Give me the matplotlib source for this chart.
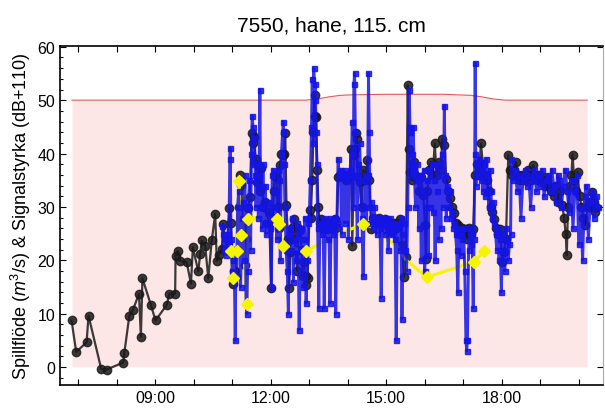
import numpy as np
import matplotlib
matplotlib.use("Agg")
import matplotlib.pyplot as plt
from matplotlib.ticker import FuncFormatter, MultipleLocator

plt.rcParams['font.family'] = ['Liberation Sans', 'DejaVu Sans']
plt.rcParams['mathtext.fontset'] = 'custom'
plt.rcParams['mathtext.rm'] = 'Liberation Sans'
plt.rcParams['mathtext.it'] = 'Liberation Sans:italic'

# tid i timmar (decimal), värden avlästa ur bilden
# gräns (spillflöde) - röd linje med rosa fyllning
grans_t = [6.84, 12.0, 12.9, 13.2, 13.5, 13.8, 14.1, 15.0, 16.5, 17.2, 17.5, 17.8, 18.1, 19.0, 20.22]
grans_v = [50, 50, 50, 50.2, 50.6, 50.9, 51, 51.1, 51.1, 50.9, 50.6, 50.2, 50, 50, 50]

# svart serie (cirklar)
svart_t = [6.83, 6.95, 7.22, 7.27, 7.60, 7.74, 8.17, 8.20, 8.33, 8.42, 8.58, 8.63, 8.67, 8.89,
           9.01, 9.30, 9.37, 9.52, 9.53, 9.59, 9.65, 9.82, 9.93, 9.98, 10.12, 10.17, 10.21, 10.30,
           10.38, 10.47, 10.56, 10.60, 10.65, 10.73, 10.77, 10.85, 10.93,
           10.97, 11.01, 11.05, 11.08, 11.12, 11.17, 11.21, 11.24, 11.28, 11.33, 11.37, 11.41, 11.46,
           11.51, 11.54, 11.56, 11.61, 11.65, 11.68, 11.72, 11.76, 11.81, 11.86, 11.91, 11.96, 12.01,
           12.05, 12.08, 12.11, 12.14, 12.18, 12.21, 12.24, 12.28, 12.31, 12.35, 12.38, 12.41, 12.45,
           12.48, 12.51, 12.55, 12.58, 12.61, 12.65, 12.69, 12.72, 12.76, 12.80, 12.83, 12.86, 12.91,
           12.93, 12.96, 13.01, 13.04, 13.08, 13.11, 13.14, 13.16, 13.18, 13.21, 13.24, 13.27, 13.31,
           13.36, 13.41, 13.46, 13.51, 13.56, 13.61, 13.66, 13.71, 13.76, 13.81, 13.86, 13.91, 13.96,
           14.01, 14.05, 14.08, 14.12, 14.16, 14.19, 14.21, 14.23, 14.26, 14.31, 14.36, 14.41, 14.46,
           14.51, 14.56, 14.61, 14.66, 14.71, 14.76, 14.81, 14.86, 14.91, 14.96, 15.01, 15.06, 15.11,
           15.16, 15.21, 15.26, 15.31, 15.36, 15.41, 15.46, 15.51, 15.56, 15.58, 15.61, 15.66, 15.71,
           15.76, 15.81, 15.86, 15.91, 15.96, 16.01, 16.03, 16.07, 16.12, 16.16, 16.21, 16.26, 16.31,
           16.36, 16.41, 16.46, 16.51, 16.56, 16.61, 16.66, 16.71, 16.76, 16.81, 16.86, 16.91, 16.96,
           17.01, 17.06, 17.11, 17.16, 17.21, 17.26, 17.31, 17.36, 17.41, 17.46, 17.51, 17.56, 17.61,
           17.66, 17.71, 17.76, 17.81, 17.86, 17.91, 17.96, 18.01, 18.06, 18.11, 18.17, 18.22, 18.27,
           18.32, 18.37, 18.42, 18.47, 18.52, 18.57, 18.62, 18.67, 18.72, 18.77, 18.82, 18.87, 18.92,
           18.97, 19.02, 19.07, 19.12, 19.17, 19.22, 19.27, 19.32, 19.37, 19.42, 19.47, 19.52, 19.57,
           19.62, 19.66, 19.69, 19.72, 19.77, 19.81, 19.84, 19.88, 19.92, 19.97, 20.02, 20.07, 20.12,
           20.17, 20.22, 20.27, 20.31, 20.35, 20.39, 20.42, 20.46]
svart_v = [8.7, 2.8, 4.6, 9.6, -0.4, -0.5, 0.8, 2.6, 9.6, 10.6, 13.7, 5.6, 16.6, 11.6,
           8.7, 11.6, 13.7, 13.7, 20.8, 21.8, 19.9, 19.6, 15.6, 22.4, 17.9, 21.2, 23.7, 22.7,
           16.6, 23.7, 28.7, 19.9, 21.0, 22.1, 26.8, 22.0, 29.7,
           27, 15.6, 18, 17.9, 22, 30, 35.9, 34.1, 26, 19.1, 24, 29.7, 31.9,
           43.8, 42, 43.1, 39, 34.7, 37.8, 33, 37.2, 30, 30.9, 27, 29, 14.7,
           28, 33, 35.9, 35.6, 30, 26, 37.8, 40, 39.7, 40, 43.8, 30.3, 24,
           14.7, 21.6, 26, 24, 27.8, 22, 18, 26, 25.6, 22, 17, 19.7, 15.3,
           17, 16.6, 29.4, 28, 35, 44, 50.9, 47, 46.9, 36.9, 30, 27, 27.8,
           26, 27, 25.9, 27, 26, 27, 27.8, 26, 35.6, 36, 35.9, 36, 35,
           35.6, 36, 40.8, 22.7, 39.7, 40.8, 43.8, 42.8, 35.6, 34.7, 30, 36.9, 35,
           38.8, 35, 25.9, 28, 27.8, 27, 28, 27, 27, 27.8, 27, 26, 27,
           25.3, 27, 26, 27, 27.8, 22.8, 16.9, 20.6, 52.8, 40.9, 36.6, 35, 38.4,
           36, 35.3, 33, 35.6, 32.2, 26.6, 20.3, 33, 37, 38.4, 36, 41.9, 36,
           38.4, 37, 42.8, 41.6, 35.3, 33, 31.6, 30, 28.8, 27, 26.6, 25, 26,
           25, 25.9, 24, 26, 25, 25.9, 35.9, 38, 36, 41.9, 38, 36, 35,
           33, 30, 29, 27.8, 26, 25, 25.9, 19.7, 21.6, 24, 39.7, 37, 36,
           37, 38.4, 36, 35, 36, 35, 36, 37, 36, 35, 37.8, 36, 35,
           36, 35, 35.6, 34, 35, 34, 33, 33.8, 32, 34, 31, 33, 30.3,
           28, 25, 20.9, 30, 34, 36, 39.8, 35, 33, 36.6, 32, 30, 28,
           26.6, 30, 31, 30, 32.8, 31, 29.1, 30]

# blå serie (kvadrater)
bla_t = [10.73, 10.76, 10.79, 10.82, 10.85, 10.88, 10.91, 10.94, 10.95, 10.97,
         11.00, 11.03, 11.06, 11.08, 11.10, 11.12, 11.14, 11.17, 11.20, 11.22, 11.25, 11.28, 11.30,
         11.33, 11.36, 11.38, 11.40, 11.42, 11.45, 11.48,
         11.50, 11.52, 11.54, 11.56, 11.58, 11.60, 11.62, 11.64, 11.66, 11.68, 11.70, 11.72, 11.74,
         11.77, 11.80, 11.83, 11.86, 11.89, 11.92, 11.95, 11.98,
         12.00, 12.02, 12.04, 12.07, 12.10, 12.13, 12.16, 12.19, 12.22, 12.25, 12.28, 12.31, 12.33,
         12.35, 12.37, 12.40, 12.43, 12.46, 12.48,
         12.50, 12.53, 12.56, 12.59, 12.62, 12.65, 12.68, 12.71, 12.74, 12.77, 12.80, 12.83, 12.86,
         12.89, 12.92, 12.95, 12.98,
         13.00, 13.03, 13.06, 13.08, 13.10, 13.12, 13.14, 13.16, 13.18, 13.20, 13.22, 13.25, 13.28,
         13.30, 13.33, 13.36, 13.39, 13.42, 13.45, 13.48, 13.51, 13.54, 13.57, 13.60, 13.63, 13.66,
         13.69, 13.72,
         13.75, 13.78, 13.81, 13.84, 13.87, 13.90, 13.93, 13.96, 13.99, 14.02, 14.05, 14.08,
         14.10, 14.12, 14.14, 14.16, 14.18, 14.20, 14.22, 14.25, 14.28, 14.31, 14.34, 14.37, 14.40,
         14.43, 14.46, 14.49, 14.52, 14.54, 14.56, 14.58,
         14.60, 14.63, 14.66, 14.69, 14.72, 14.75, 14.78, 14.81, 14.84, 14.87, 14.90, 14.93, 14.96,
         14.99, 15.02, 15.05, 15.08, 15.11, 15.14, 15.17, 15.20, 15.23, 15.26, 15.29, 15.32, 15.35,
         15.38, 15.41, 15.44, 15.47, 15.50, 15.53,
         15.56, 15.58, 15.60, 15.62, 15.64, 15.66, 15.68, 15.70, 15.73, 15.76, 15.79, 15.82, 15.85,
         15.88, 15.91, 15.94, 15.97, 16.00, 16.03, 16.06, 16.09,
         16.12, 16.15, 16.18, 16.21, 16.24, 16.27, 16.30, 16.33, 16.36, 16.39, 16.42, 16.45, 16.48,
         16.51, 16.53, 16.56, 16.59,
         16.62, 16.65, 16.68, 16.71, 16.74, 16.77, 16.80, 16.83, 16.86, 16.89, 16.92, 16.95, 16.98,
         17.01, 17.04, 17.07, 17.09, 17.11, 17.14, 17.17, 17.20, 17.23, 17.26, 17.28,
         17.30, 17.31, 17.33, 17.36, 17.39, 17.42, 17.45, 17.48, 17.51, 17.54, 17.57, 17.60, 17.63,
         17.66, 17.69, 17.72, 17.75, 17.78,
         17.81, 17.84, 17.87, 17.90, 17.93, 17.96, 17.99, 18.02, 18.05, 18.08, 18.11, 18.14, 18.17,
         18.20, 18.23,
         18.25, 18.30, 18.35, 18.40, 18.45, 18.50, 18.55, 18.60, 18.65, 18.70, 18.75, 18.80, 18.85,
         18.90, 18.95, 19.00, 19.05, 19.10, 19.15, 19.20, 19.25, 19.30, 19.35, 19.40, 19.45, 19.50,
         19.55, 19.60, 19.65, 19.70, 19.75, 19.80, 19.85, 19.90, 19.95, 20.00, 20.05, 20.10, 20.15,
         20.20, 20.25, 20.30, 20.35, 20.40, 20.45, 20.50]
bla_v = [26.5, 25, 22, 24, 21, 25, 23, 39, 41, 24,
         18, 20, 16, 5, 22, 17, 30, 33, 25, 15, 28, 31, 20,
         36, 12, 10, 18, 30, 35, 22,
         40, 47, 45, 38, 43, 36, 30, 38, 34, 28, 36, 52, 30,
         26, 38, 27, 34, 25, 31, 28, 26,
         30, 15, 36, 37, 33, 28, 24, 37, 35, 20, 40, 44, 46,
         38, 30, 22, 18, 10, 25,
         26, 22, 28, 16, 24, 20, 27, 25, 7, 22, 26, 15, 24,
         28, 12, 20, 27,
         28, 35, 45, 54, 42, 56, 50, 53, 44, 38, 26, 11, 27,
         27, 25, 28, 11, 26, 27, 24, 28, 12, 27, 26, 25, 28,
         10, 27,
         39, 36, 37, 25, 36, 37, 27, 36, 35, 24, 37, 36,
         40, 46, 30, 53, 55, 44, 36, 24, 38, 42, 35, 28, 17,
         30, 36, 27, 36, 55, 44, 30,
         31, 28, 26, 30, 27, 25, 28, 27, 26, 13, 28, 27, 25,
         28, 27, 22, 26, 28, 25, 27, 26, 24, 5, 27, 26, 22,
         28, 9, 25, 27, 22, 18,
         30, 45, 52, 44, 38, 36, 40, 45, 37, 30, 38, 35, 26,
         36, 20, 33, 37, 18, 30, 35, 21,
         37, 30, 38, 29, 35, 20, 38, 33, 24, 38, 26, 40, 30,
         49, 36, 28, 34,
         30, 33, 28, 29, 26, 27, 25, 22, 14, 26, 25, 21, 24,
         26, 18, 5, 3, 5, 22, 26, 23, 25, 11, 24,
         40, 57, 34, 38, 36, 39, 35, 37, 33, 38, 32, 39, 36,
         30, 37, 33, 28, 31,
         27, 25, 22, 26, 20, 24, 14, 25, 22, 18, 26, 24, 20,
         23, 25,
         39, 35, 37, 33, 36, 28, 35, 37, 34, 36, 30, 35, 37,
         33, 36, 34, 37, 32, 35, 36, 33, 37, 34, 31, 36, 35,
         30, 34, 37, 33, 29, 35, 26, 33, 36, 23, 30, 20, 32,
         34, 24, 31, 33, 28, 32, 30]

# gul serie (romber); gul_punkt anger vilka värden som har en romb
gul_t = [10.97, 11.03, 11.06, 11.12, 11.18, 11.22, 11.27, 11.33, 11.38, 11.42, 11.55,
         12.16, 12.22, 12.31, 12.55, 12.92, 13.3, 13.8, 14.41, 14.7, 15.0, 15.28,
         15.49, 16.05, 17.27, 17.55]
gul_v = [21.7, 16.7, 21.8, 21.8, 34.8, 24.8, 28, 18, 11.7, 27.7, 28,
         27.7, 26.7, 22.7, 22.3, 21.7, 23.2, 25.0, 26.8, 26, 24, 22.7,
         20.2, 16.8, 19.7, 21.7]
gul_punkt = [True, True, False, True, True, True, False, False, True, True, False,
             True, True, True, False, True, False, False, True, False, False, False,
             False, True, True, True]


def tim_format(x, pos):
    h = int(round(x * 60)) // 60
    m = int(round(x * 60)) % 60
    return "%02d:%02d" % (h, m)


fig = plt.figure(figsize=(6.05, 4.10), dpi=100)
ax = fig.add_axes([0.0992, 0.0585, 0.8975, 0.8268])

ax.fill_between(grans_t, 0, grans_v, color='#fde6e6', lw=0, zorder=1)
ax.plot(grans_t, grans_v, color='#e05a5a', lw=0.8, zorder=1.5)

ax.plot(svart_t, svart_v, color='#1a1a1a', marker='o', markersize=6, lw=1.6,
        alpha=0.85, zorder=2)
# gul linje under den blå, romberna överst
ax.plot(gul_t, gul_v, color='#f5f500', lw=2.2, zorder=2.5)
ax.plot(bla_t, bla_v, color='#1414e8', marker='s', markersize=3.6, lw=2.1,
        alpha=0.85, zorder=3)
ax.plot(gul_t, gul_v, color='#f5f500', lw=0, marker='D', markersize=5.8,
        markevery=gul_punkt, zorder=4)

ax.set_xlim(6.53, 20.63)
ax.set_ylim(-3.4, 60.15)
ax.xaxis.set_major_locator(MultipleLocator(3))
ax.xaxis.set_minor_locator(MultipleLocator(1))
ax.xaxis.set_major_formatter(FuncFormatter(tim_format))
ax.yaxis.set_major_locator(MultipleLocator(10))
ax.yaxis.set_minor_locator(MultipleLocator(2))

ax.tick_params(which='both', direction='in', top=True, right=True, labelsize=11.5)
ax.tick_params(which='major', length=4, width=0.8)
ax.tick_params(which='minor', length=2.5, width=0.8)
ax.tick_params(axis='y', which='minor', right=False)
ax.tick_params(axis='x', which='minor', length=4)
for s in ['left', 'bottom', 'top']:
    ax.spines[s].set_linewidth(1.2)
ax.spines['right'].set_color('#aaaaaa')

ax.set_title("7550, hane, 115. cm", fontsize=15, pad=11)
ax.set_ylabel("Spillflöde ($m^3$/s) & Signalstyrka (dB+110)", fontsize=13, labelpad=3)

fig.savefig("out.png", dpi=100)
